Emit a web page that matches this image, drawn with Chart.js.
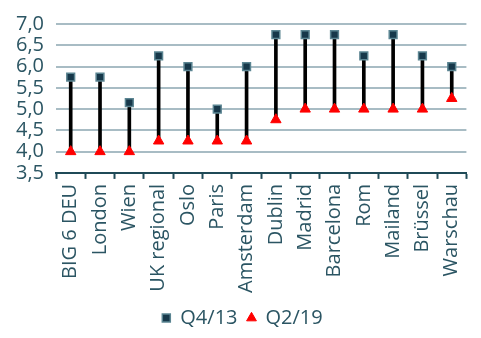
<!DOCTYPE html>
<html>
<head>
<meta charset="utf-8">
<script src="https://cdn.jsdelivr.net/npm/chart.js@4/dist/chart.umd.min.js"></script>
<style>
  html, body { margin: 0; padding: 0; background: #fff; }
  #wrap { width: 481px; height: 338px; }
</style>
</head>
<body>
<div id="wrap"><canvas id="chart"></canvas></div>
<script>
const cities = ['BIG 6 DEU', 'London', 'Wien', 'UK regional', 'Oslo', 'Paris', 'Amsterdam',
  'Dublin', 'Madrid', 'Barcelona', 'Rom', 'Mailand', 'Brüssel', 'Warschau'];
const q413 = [5.75, 5.75, 5.15, 6.25, 6.0, 5.0, 6.0, 6.75, 6.75, 6.75, 6.25, 6.75, 6.25, 6.0];
const q219 = [4.0, 4.0, 4.0, 4.25, 4.25, 4.25, 4.25, 4.75, 5.0, 5.0, 5.0, 5.0, 5.0, 5.25];
const yTicks = [3.5, 4.0, 4.5, 5.0, 5.5, 6.0, 6.5, 7.0];

const teal = '#2b5563';
const ctx = document.getElementById('chart').getContext('2d');

new Chart(ctx, {
  type: 'bar',
  data: {
    labels: cities,
    datasets: [
      {
        type: 'line',
        label: 'Q4/13',
        data: q413,
        showLine: false,
        pointStyle: 'rect',
        pointRadius: 5.5,
        backgroundColor: '#17384a',
        borderColor: '#5b8592',
        borderWidth: 1.5,
        order: 0
      },
      {
        type: 'line',
        label: 'Q2/19',
        data: q219,
        showLine: false,
        pointStyle: 'triangle',
        pointRadius: 6,
        backgroundColor: '#ff0000',
        borderColor: '#ff0000',
        borderWidth: 1,
        order: 1
      },
      {
        label: 'range',
        data: q219.map((v, i) => [v, q413[i]]),
        backgroundColor: '#000',
        barThickness: 3,
        order: 2
      }
    ]
  },
  options: {
    responsive: true,
    maintainAspectRatio: false,
    animation: false,
    layout: { padding: { top: 11, right: 0, left: 4, bottom: 0 } },
    plugins: {
      tooltip: { enabled: false },
      legend: {
        position: 'bottom',
        labels: {
          usePointStyle: true,
          boxWidth: 8,
          boxHeight: 8,
          padding: 10,
          color: teal,
          font: { family: 'Open Sans', size: 20 },
          filter: item => item.text !== 'range'
        }
      }
    },
    scales: {
      x: {
        offset: true,
        grid: {
          offset: true,
          drawOnChartArea: false,
          drawTicks: true,
          tickLength: 6,
          tickWidth: 2,
          color: '#1f4a57'
        },
        border: { color: '#1f4a57', width: 2 },
        ticks: {
          color: teal,
          font: { family: 'Open Sans', size: 20 },
          minRotation: 90,
          maxRotation: 90,
          padding: 5,
          autoSkip: false
        }
      },
      y: {
        min: yTicks[0],
        max: yTicks[yTicks.length - 1],
        afterBuildTicks: axis => { axis.ticks = yTicks.map(v => ({ value: v })); },
        grid: { color: '#a8bcc4', lineWidth: 2, drawTicks: false },
        border: { display: false },
        ticks: {
          color: teal,
          autoSkip: false,
          font: { family: 'Open Sans', size: 20 },
          padding: 12,
          callback: v => v.toFixed(1).replace('.', ',')
        }
      }
    }
  }
});
</script>
</body>
</html>
